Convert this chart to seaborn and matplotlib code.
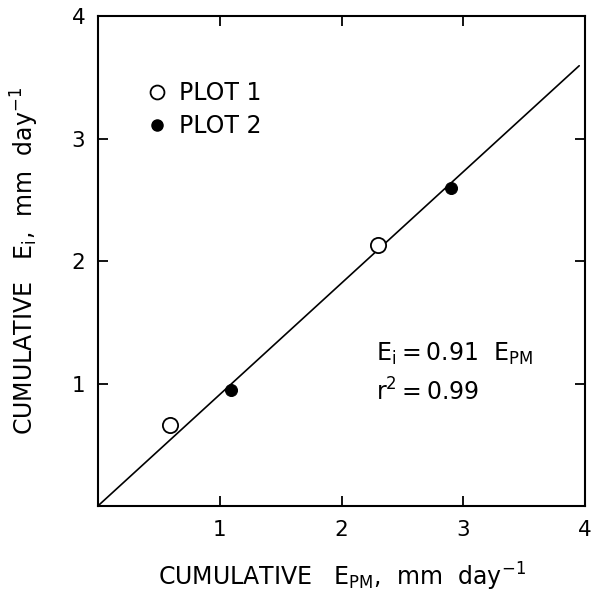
import matplotlib
matplotlib.use("Agg")
import matplotlib.pyplot as plt
import seaborn as sns
import pandas as pd
from matplotlib.lines import Line2D

# Data
plot1_x = [0.59, 2.30]
plot1_y = [0.66, 2.13]
plot2_x = [1.09, 2.90]
plot2_y = [0.95, 2.60]
slope = 0.91
line_x = [0.0, 3.95]
line_y = [slope * v for v in line_x]
x_ticks = [1, 2, 3, 4]
y_ticks = [1, 2, 3, 4]

sns.set_style("ticks")
plt.rcParams['font.family'] = ['DejaVu Sans']
plt.rcParams['mathtext.fontset'] = 'dejavusans'
plt.rcParams['text.color'] = 'black'
plt.rcParams['axes.labelcolor'] = 'black'

df = pd.DataFrame({
    'x': plot1_x + plot2_x,
    'y': plot1_y + plot2_y,
    'plot': ['PLOT 1'] * len(plot1_x) + ['PLOT 2'] * len(plot2_x),
})
line_df = pd.DataFrame({'x': line_x, 'y': line_y})

fig = plt.figure(figsize=(6.04, 5.96), dpi=100)
ax = fig.add_axes([0.162, 0.151, 0.807, 0.822])

sns.lineplot(data=line_df, x='x', y='y', ax=ax, color='black', lw=1.2, legend=False)
d1 = df[df['plot'] == 'PLOT 1']
d2 = df[df['plot'] == 'PLOT 2']
sns.scatterplot(data=d1, x='x', y='y', ax=ax, s=120, facecolor='white',
                edgecolor='black', linewidth=1.3, zorder=3, legend=False)
sns.scatterplot(data=d2, x='x', y='y', ax=ax, s=75, color='black',
                edgecolor='black', zorder=3, legend=False)

ax.set_xlim(0, 4)
ax.set_ylim(0, 4)
ax.set_xticks(x_ticks)
ax.set_yticks(y_ticks)
ax.set_xticklabels([str(t) for t in x_ticks])
ax.set_yticklabels([str(t) for t in y_ticks])
ax.tick_params(direction='in', length=7, width=1.3, labelsize=15.5,
               top=True, right=True, colors='black')
ax.tick_params(axis='x', pad=10)
ax.tick_params(axis='y', pad=9)
for sp in ax.spines.values():
    sp.set_linewidth(1.5)
    sp.set_color('black')

ax.set_xlabel(r'CUMULATIVE   $\mathregular{E_{PM}}$,  mm  day$^{\mathregular{-1}}$',
              fontsize=17, labelpad=15)
ax.set_ylabel(r'CUMULATIVE   $\mathregular{E_i}$,  mm  day$^{\mathregular{-1}}$',
              fontsize=17, labelpad=22)

handles = [
    Line2D([], [], marker='o', ls='', markersize=10, markerfacecolor='white',
           markeredgecolor='black', markeredgewidth=1.3, label='PLOT 1'),
    Line2D([], [], marker='o', ls='', markersize=8, markerfacecolor='black',
           markeredgecolor='black', label='PLOT 2'),
]
ax.legend(handles=handles, loc='upper left', bbox_to_anchor=(0.077, 0.887),
          frameon=False, fontsize=17, handletextpad=0.45, labelspacing=0.4,
          handlelength=1.0, borderaxespad=0)

ax.text(0.571, 0.31, r'$\mathregular{E_i = 0.91\ \ E_{PM}}$', transform=ax.transAxes,
        fontsize=17, ha='left', va='center')
ax.text(0.571, 0.232, r'$\mathregular{r^2 = 0.99}$', transform=ax.transAxes,
        fontsize=17, ha='left', va='center')

fig.savefig('out.png', dpi=100)
